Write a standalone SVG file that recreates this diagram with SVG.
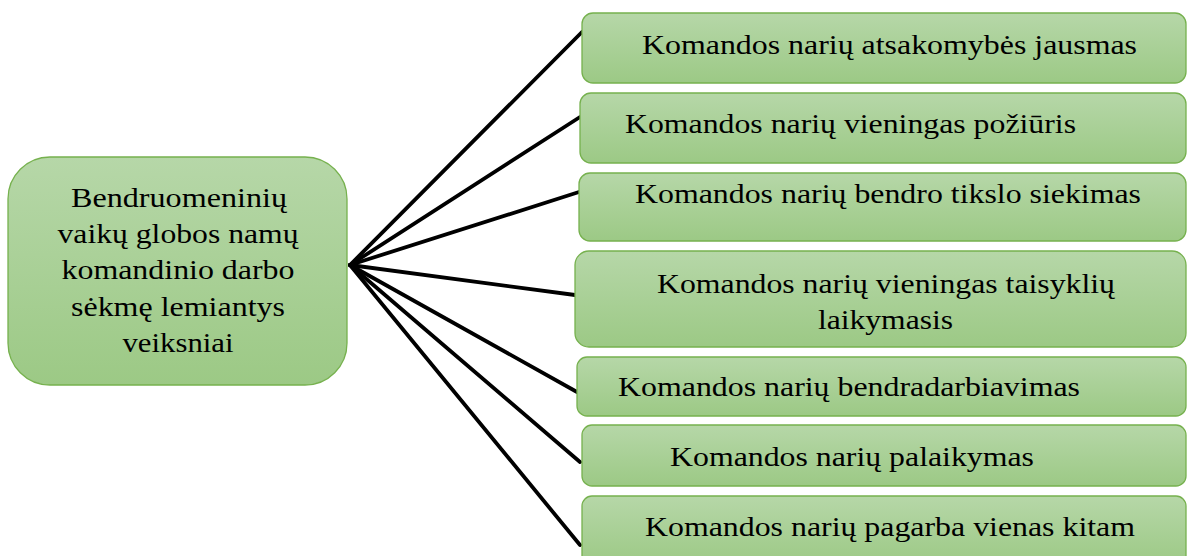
<svg xmlns="http://www.w3.org/2000/svg" width="1187" height="556" viewBox="0 0 1187 556">
<defs>
<linearGradient id="g" x1="0" y1="0" x2="0" y2="1">
<stop offset="0" stop-color="#b6d7a8"/>
<stop offset="1" stop-color="#9cc985"/>
</linearGradient>
<style>
.box{fill:url(#g);stroke:#76b14e;stroke-width:1.3}
.t{font-family:'Liberation Serif','DejaVu Serif',serif;font-size:28px;fill:#000}
.c{text-anchor:middle}
.ln{stroke:#000;stroke-width:3.8;stroke-linecap:round;fill:none}
</style>
</defs>
<rect width="1187" height="556" fill="#fff"/>
<g id="connectors">
<line class="ln" x1="350" y1="265" x2="582" y2="32"/>
<line class="ln" x1="350" y1="265" x2="580" y2="117"/>
<line class="ln" x1="350" y1="265" x2="579" y2="192"/>
<line class="ln" x1="350" y1="265" x2="575" y2="295"/>
<line class="ln" x1="350" y1="265" x2="577" y2="392"/>
<line class="ln" x1="350" y1="265" x2="580" y2="462"/>
<line class="ln" x1="350" y1="265" x2="580" y2="545"/>
</g>
<g id="center">
<rect class="box" x="8" y="157" width="339" height="228" rx="42"/>
<text class="t c" x="179" y="207" textLength="216" lengthAdjust="spacingAndGlyphs">Bendruomeninių</text>
<text class="t c" x="178" y="243" textLength="241" lengthAdjust="spacingAndGlyphs">vaikų globos namų</text>
<text class="t c" x="178" y="279" textLength="233" lengthAdjust="spacingAndGlyphs">komandinio darbo</text>
<text class="t c" x="178" y="316" textLength="214" lengthAdjust="spacingAndGlyphs">sėkmę lemiantys</text>
<text class="t c" x="178" y="352" textLength="111" lengthAdjust="spacingAndGlyphs">veiksniai</text>
</g>
<g id="n1">
<rect class="box" x="582" y="13" width="604" height="70" rx="11"/>
<text class="t" x="642" y="54" textLength="495" lengthAdjust="spacingAndGlyphs">Komandos narių atsakomybės jausmas</text>
</g>
<g id="n2">
<rect class="box" x="580" y="93" width="606" height="70" rx="11"/>
<text class="t" x="625" y="133" textLength="451" lengthAdjust="spacingAndGlyphs">Komandos narių vieningas požiūris</text>
</g>
<g id="n3">
<rect class="box" x="579" y="173" width="607" height="68" rx="11"/>
<text class="t" x="635" y="203" textLength="506" lengthAdjust="spacingAndGlyphs">Komandos narių bendro tikslo siekimas</text>
</g>
<g id="n4">
<rect class="box" x="575" y="251" width="611" height="96" rx="14"/>
<text class="t" x="657" y="293" textLength="458" lengthAdjust="spacingAndGlyphs">Komandos narių vieningas taisyklių</text>
<text class="t" x="818" y="329" textLength="135" lengthAdjust="spacingAndGlyphs">laikymasis</text>
</g>
<g id="n5">
<rect class="box" x="577" y="357" width="609" height="59" rx="10"/>
<text class="t" x="618" y="396" textLength="462" lengthAdjust="spacingAndGlyphs">Komandos narių bendradarbiavimas</text>
</g>
<g id="n6">
<rect class="box" x="582" y="425" width="604" height="61" rx="10"/>
<text class="t" x="670" y="466" textLength="364" lengthAdjust="spacingAndGlyphs">Komandos narių palaikymas</text>
</g>
<g id="n7">
<rect class="box" x="582" y="496" width="604" height="70" rx="10"/>
<text class="t" x="645" y="536" textLength="490" lengthAdjust="spacingAndGlyphs">Komandos narių pagarba vienas kitam</text>
</g>
</svg>
